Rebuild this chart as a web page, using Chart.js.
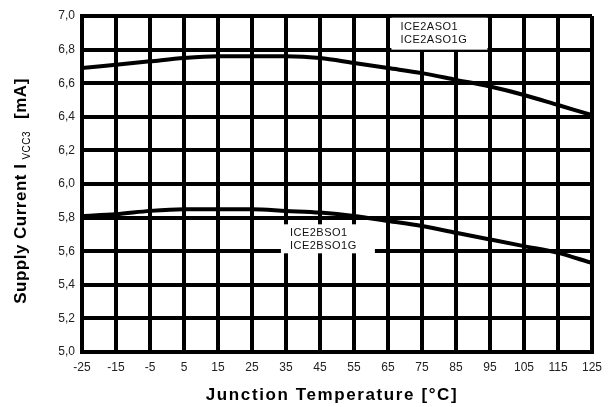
<!DOCTYPE html>
<html>
<head>
<meta charset="utf-8">
<title>Supply Current vs Junction Temperature</title>
<script src="https://cdn.jsdelivr.net/npm/chart.js@4"></script>
<style>
  html, body { margin: 0; padding: 0; background: #fff; }
  canvas { display: block; }
</style>
</head>
<body>
<canvas id="chart" width="610" height="407"></canvas>
<script>
// values
const temps = [-25, -15, -5, 5, 15, 25, 35, 45, 55, 65, 75, 85, 95, 105, 115, 125];
const currentA = [6.69, 6.71, 6.73, 6.75, 6.76, 6.76, 6.76, 6.75, 6.72, 6.69, 6.66, 6.62, 6.58, 6.53, 6.47, 6.41];
const currentB = [5.81, 5.82, 5.84, 5.85, 5.85, 5.85, 5.84, 5.83, 5.81, 5.78, 5.75, 5.71, 5.67, 5.63, 5.59, 5.53];
const xTicks = [-25, -15, -5, 5, 15, 25, 35, 45, 55, 65, 75, 85, 95, 105, 115, 125];
const yTicks = [5.0, 5.2, 5.4, 5.6, 5.8, 6.0, 6.2, 6.4, 6.6, 6.8, 7.0];
const labelA = ['ICE2ASO1', 'ICE2ASO1G'];
const labelB = ['ICE2BSO1', 'ICE2BSO1G'];

const FONT = '"Liberation Sans", Arial, sans-serif';

// white boxes with the part names, and the two axis titles
const decorations = {
  id: 'decorations',
  afterDatasetsDraw(chart) {
    const ctx = chart.ctx;
    const xs = chart.scales.x, ys = chart.scales.y;

    function labelBox(lines, xVal, yVal, w, h) {
      const x = xs.getPixelForValue(xVal);
      const y = ys.getPixelForValue(yVal);
      ctx.save();
      ctx.fillStyle = '#fff';
      ctx.fillRect(x, y, w, h);
      ctx.fillStyle = '#111';
      ctx.font = '11px ' + FONT;
      ctx.letterSpacing = '0.5px';
      ctx.textBaseline = 'middle';
      ctx.fillText(lines[0], x + 9, y + 9);
      ctx.fillText(lines[1], x + 9, y + 22);
      ctx.restore();
    }
    labelBox(labelA, 66, 6.99, 96, 32);
    labelBox(labelB, 33.5, 5.76, 94, 29);

    // x title
    ctx.save();
    ctx.fillStyle = '#000';
    ctx.font = 'bold 17px ' + FONT;
    ctx.letterSpacing = '1.6px';
    ctx.textAlign = 'center';
    ctx.textBaseline = 'middle';
    ctx.fillText('Junction Temperature [°C]', 332, 395);
    ctx.restore();

    // y title with subscript
    ctx.save();
    ctx.translate(21, 191);
    ctx.rotate(-Math.PI / 2);
    ctx.fillStyle = '#000';
    ctx.textBaseline = 'middle';
    const p1 = 'Supply Current I';
    const p2 = 'VCC3';
    const p3 = '[mA]';
    const big = 'bold 17px ' + FONT;
    const small = '10px ' + FONT;
    ctx.letterSpacing = '0.5px';
    ctx.font = big;
    const w1 = ctx.measureText(p1).width;
    const w3 = ctx.measureText(p3).width;
    ctx.font = small;
    const w2 = ctx.measureText(p2).width;
    const total = w1 + 4 + w2 + 12 + w3;
    let cx = -total / 2;
    ctx.font = big;
    ctx.fillText(p1, cx, 0);
    cx += w1 + 4;
    ctx.font = small;
    ctx.fillText(p2, cx, 6);
    cx += w2 + 12;
    ctx.font = big;
    ctx.fillText(p3, cx, 0);
    ctx.restore();
  }
};

const ctx = document.getElementById('chart').getContext('2d');
new Chart(ctx, {
  type: 'line',
  data: {
    datasets: [
      {
        label: 'ICE2ASO1',
        data: temps.map((t, i) => ({ x: t, y: currentA[i] })),
        borderColor: '#000',
        borderWidth: 4,
        pointRadius: 0,
        cubicInterpolationMode: 'monotone',
        fill: false
      },
      {
        label: 'ICE2BSO1',
        data: temps.map((t, i) => ({ x: t, y: currentB[i] })),
        borderColor: '#000',
        borderWidth: 4,
        pointRadius: 0,
        cubicInterpolationMode: 'monotone',
        fill: false
      }
    ]
  },
  options: {
    responsive: false,
    animation: false,
    layout: { padding: { top: 16, right: 17, left: 0, bottom: 0 } },
    plugins: {
      legend: { display: false },
      tooltip: { enabled: false }
    },
    scales: {
      x: {
        type: 'linear',
        min: -25,
        max: 125,
        afterBuildTicks: s => { s.ticks = xTicks.map(v => ({ value: v })); },
        afterFit: s => { s.height = 55; },
        grid: { color: '#000', lineWidth: 4, drawTicks: false },
        border: { color: '#000', width: 4 },
        ticks: {
          color: '#222',
          padding: 8,
          maxRotation: 0,
          autoSkip: false,
          font: { family: FONT, size: 12 }
        }
      },
      y: {
        type: 'linear',
        min: 5,
        max: 7,
        afterBuildTicks: s => { s.ticks = yTicks.map(v => ({ value: v })); },
        afterFit: s => { s.width = 82; },
        grid: { color: '#000', lineWidth: 4, drawTicks: false },
        border: { color: '#000', width: 4 },
        ticks: {
          color: '#222',
          padding: 7,
          autoSkip: false,
          font: { family: FONT, size: 12 },
          callback: v => v.toFixed(1).replace('.', ',')
        }
      }
    }
  },
  plugins: [decorations]
});
</script>
</body>
</html>
